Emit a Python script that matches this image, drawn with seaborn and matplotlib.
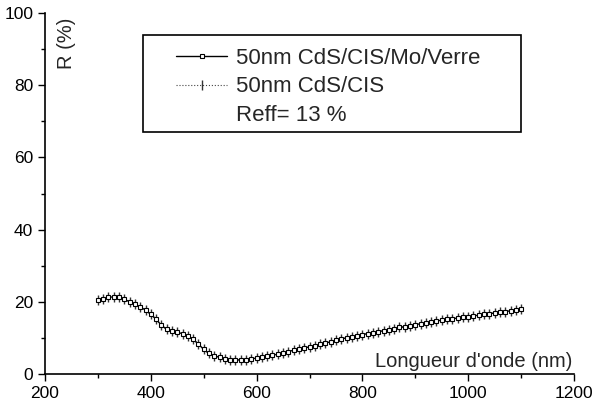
import numpy as np
import pandas as pd
import matplotlib
matplotlib.use("Agg")
import matplotlib.pyplot as plt
from matplotlib.lines import Line2D
from matplotlib.patches import Rectangle
from matplotlib.ticker import MultipleLocator
import seaborn as sns

# wavelength (nm), one point every 10 nm
wavelength = list(range(300, 1101, 10))

# reflectance (%)
r_mo_verre = [20.5, 20.9, 21.2, 21.4, 21.2, 20.7, 20.0, 19.3, 18.6, 17.7,
              16.5, 15.2, 13.5, 12.4, 11.8, 11.5, 11.2, 10.5, 9.6, 8.3,
              6.8, 5.7, 5.1, 4.6, 4.2, 4.0, 3.9, 3.9, 4.0, 4.2,
              4.4, 4.7, 4.9, 5.2, 5.5, 5.8, 6.2, 6.6, 6.8, 7.2,
              7.5, 7.8, 8.2, 8.6, 8.9, 9.3, 9.7, 10.0, 10.3, 10.6,
              10.9, 11.2, 11.4, 11.7, 12.0, 12.3, 12.6, 12.9, 13.1, 13.4,
              13.7, 13.9, 14.2, 14.4, 14.7, 14.9, 15.1, 15.3, 15.5, 15.7,
              15.9, 16.1, 16.3, 16.5, 16.7, 16.9, 17.1, 17.3, 17.5, 17.7,
              17.9]
r_cis = list(r_mo_verre)

label_1 = "50nm CdS/CIS/Mo/Verre"
label_2 = "50nm CdS/CIS"
reff_text = "Reff= 13 %"

df = pd.DataFrame({"wl": wavelength, "mo": r_mo_verre, "cis": r_cis})

sns.set_style("ticks")
plt.rcParams["font.family"] = ["Liberation Sans", "DejaVu Sans"]

fig = plt.figure(figsize=(5.95, 4.05), dpi=100)
ax = fig.add_axes([45 / 595, 31 / 405, 529 / 595, 361 / 405])

# the CIS curve: dotted line with vertical bar markers
sns.lineplot(data=df, x="wl", y="cis", ax=ax, color="#444444", linestyle=":",
             linewidth=0.8, marker="|", markersize=7, markeredgewidth=1.0,
             markeredgecolor="#333333", label=label_2)
# the Mo/Verre curve: solid line, small open squares
sns.lineplot(data=df, x="wl", y="mo", ax=ax, color="black", linewidth=1.0,
             marker="s", markersize=3.5, markerfacecolor="white",
             markeredgecolor="black", markeredgewidth=0.8, label=label_1)

ax.set_xlim(200, 1200)
ax.set_ylim(0, 100)
ax.xaxis.set_major_locator(MultipleLocator(200))
ax.xaxis.set_minor_locator(MultipleLocator(100))
ax.yaxis.set_major_locator(MultipleLocator(20))
ax.yaxis.set_minor_locator(MultipleLocator(10))
ax.tick_params(which="major", direction="out", length=5, width=1.0,
               labelsize=12.5, color="black", labelcolor="black")
ax.tick_params(which="minor", direction="out", length=3, width=1.0, color="black")
sns.despine(ax=ax)
for s in ["left", "bottom"]:
    ax.spines[s].set_linewidth(1.2)
    ax.spines[s].set_color("black")
ax.set_xlabel("")
ax.set_ylabel("")

ax.text(0.996, 0.02, "Longueur d'onde (nm)", transform=ax.transAxes,
        ha="right", va="baseline", fontsize=14.5)
ax.text(0.04, 0.986, "R (%)", transform=ax.transAxes, rotation=90,
        ha="center", va="top", fontsize=14.5)

h1 = Line2D([], [], color="black", linewidth=1.0, marker="s", markersize=3.5,
            markerfacecolor="white", markeredgewidth=0.8)
h2 = Line2D([], [], color="#444444", linestyle=":", linewidth=0.8,
            marker="|", markersize=7, markeredgecolor="#333333")
h3 = Line2D([], [], linestyle="none")
ax.legend([h1, h2, h3], [label_1, label_2, reff_text],
          loc="upper left", bbox_to_anchor=(176 / 595, 1 - 48 / 405),
          bbox_transform=fig.transFigure, frameon=False, fontsize=16,
          handlelength=2.3, handletextpad=0.4, labelspacing=0.33,
          borderpad=0, borderaxespad=0, markerfirst=True)

fig.patches.append(Rectangle((143 / 595, 1 - 132 / 405), 378 / 595, 97 / 405,
                             transform=fig.transFigure, fill=False,
                             edgecolor="black", linewidth=1.2))

fig.savefig("out.png", dpi=100)
